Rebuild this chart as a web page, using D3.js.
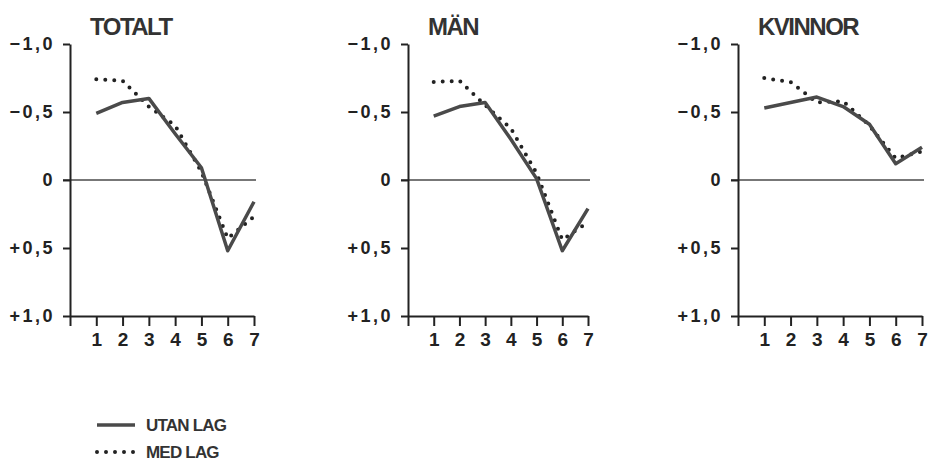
<!DOCTYPE html>
<html>
<head>
<meta charset="utf-8">
<script src="https://cdn.jsdelivr.net/npm/d3@7"></script>
<style>
  body { margin: 0; background: #fff; }
  svg { display: block; font-family: "Liberation Sans", Arial, sans-serif; }
  .tick text { fill: #222; font-weight: bold; }
</style>
</head>
<body>
<svg id="chart" width="928" height="473"></svg>
<script>
// data (negative values plotted upwards)
const categories = [1, 2, 3, 4, 5, 6, 7];
const titles = ["TOTALT", "MÄN", "KVINNOR"];
const totaltUtan = [-0.49, -0.57, -0.60, -0.34, -0.09, 0.52, 0.16];
const totaltMed = [-0.74, -0.73, -0.54, -0.40, -0.06, 0.43, 0.27];
const manUtan = [-0.47, -0.54, -0.57, -0.30, -0.01, 0.52, 0.21];
const manMed = [-0.72, -0.73, -0.55, -0.38, -0.05, 0.44, 0.31];
const kvinnorUtan = [-0.53, -0.57, -0.61, -0.54, -0.41, -0.12, -0.24];
const kvinnorMed = [-0.75, -0.72, -0.57, -0.58, -0.40, -0.16, -0.21];
const yTicks = [-1, -0.5, 0, 0.5, 1];
const yTickLabels = ["−1,0", "−0,5", "0", "+0,5", "+1,0"];
const legendLabels = ["UTAN LAG", "MED LAG"];

const utan = [totaltUtan, manUtan, kvinnorUtan];
const med = [totaltMed, manMed, kvinnorMed];

// panel placement
const panelLeft = [70, 408, 738];
const panelWidth = [184, 180, 184];
const plotTop = 44, plotBottom = 316;

const svg = d3.select("#chart");

titles.forEach((title, i) => {
	const x = d3.scaleLinear().domain([0, 7]).range([panelLeft[i], panelLeft[i] + panelWidth[i]]);
	const y = d3.scaleLinear().domain([-1, 1]).range([plotTop, plotBottom]);
	const g = svg.append("g");

	// zero line
	g.append("line")
		.attr("x1", x(0) - 7).attr("x2", x(7) + 2)
		.attr("y1", y(0)).attr("y2", y(0))
		.attr("stroke", "#777").attr("stroke-width", 2);

	// y axis
	const ya = g.append("g")
		.attr("transform", `translate(${x(0)},0)`)
		.call(d3.axisLeft(y).tickValues(yTicks).tickSize(7).tickSizeOuter(0)
			.tickFormat((d, k) => yTickLabels[k]));
	ya.selectAll("text")
		.attr("x", -15)
		.style("font-size", "18px")
		.style("letter-spacing", "2.5px");

	// x axis
	const xa = g.append("g")
		.attr("transform", `translate(0,${y(1)})`)
		.call(d3.axisBottom(x).tickValues([0].concat(categories)).tickSize(10).tickSizeOuter(0)
			.tickFormat(d => d === 0 ? "" : d));
	xa.selectAll("text")
		.attr("y", 17)
		.style("font-size", "19px");

	[ya, xa].forEach(a => {
		a.select(".domain").attr("stroke", "#222").attr("stroke-width", 2);
		a.selectAll(".tick line").attr("stroke", "#222").attr("stroke-width", 2);
	});

	// title
	g.append("text")
		.attr("x", x(0) + 20)
		.attr("y", 35)
		.attr("font-size", 24)
		.attr("font-weight", "bold")
		.attr("letter-spacing", "-1.5px")
		.attr("fill", "#333")
		.text(title);

	const line = d3.line()
		.x((d, k) => x(categories[k]))
		.y(d => y(d));

	// MED LAG (dotted)
	g.append("path")
		.datum(med[i])
		.attr("d", line)
		.attr("fill", "none")
		.attr("stroke", "#222")
		.attr("stroke-width", 4)
		.attr("stroke-linecap", "round")
		.attr("stroke-dasharray", "0 9");

	// UTAN LAG (solid)
	g.append("path")
		.datum(utan[i])
		.attr("d", line)
		.attr("fill", "none")
		.attr("stroke", "#4a4a4a")
		.attr("stroke-width", 3.5)
		.attr("stroke-linejoin", "round");
});

// legend
const legend = svg.append("g");
legendLabels.forEach((lab, k) => {
	const ly = 425 + k * 27;
	legend.append("line")
		.attr("x1", 97).attr("x2", 135)
		.attr("y1", ly).attr("y2", ly)
		.attr("stroke", k === 0 ? "#4a4a4a" : "#222")
		.attr("stroke-width", k === 0 ? 3.5 : 4)
		.attr("stroke-linecap", k === 0 ? "butt" : "round")
		.attr("stroke-dasharray", k === 0 ? null : "0 9");
	legend.append("text")
		.attr("x", 146)
		.attr("y", ly)
		.attr("dy", "0.35em")
		.attr("font-size", 17)
		.attr("font-weight", "bold")
		.attr("letter-spacing", "-0.8px")
		.attr("fill", "#333")
		.text(lab);
});
</script>
</body>
</html>
